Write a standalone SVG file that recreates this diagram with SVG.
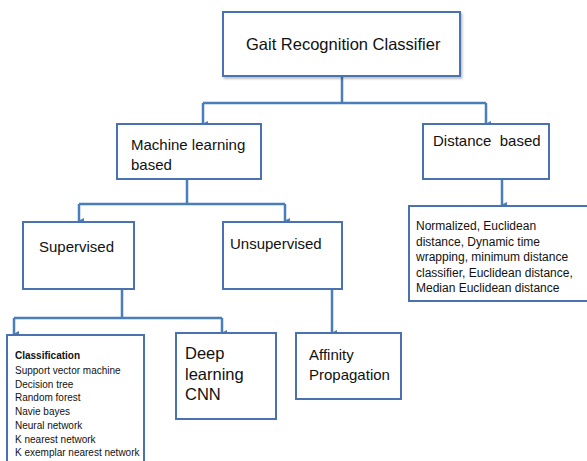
<svg xmlns="http://www.w3.org/2000/svg" width="587" height="461" viewBox="0 0 587 461">
<style>
.box{fill:#fff;stroke:#4a72b0;stroke-width:2}
.ln{fill:none;stroke:#4a7ebb;stroke-width:2.5}
text{font-family:"Liberation Sans",Arial,sans-serif;fill:#111}
.t17{font-size:16.5px}
.t16{font-size:15px}
.t12{font-size:12px}
.t11{font-size:10px}
</style>
<defs>
<marker id="ah" markerWidth="6" markerHeight="6" refX="3" refY="5" orient="auto" markerUnits="userSpaceOnUse" viewBox="0 0 6 6">
<path d="M0,0 L6,0 L3,6 Z" fill="#4a7ebb"/>
</marker>
<filter id="sh" x="-10%" y="-10%" width="120%" height="130%"><feDropShadow dx="1.5" dy="2" stdDeviation="1.2" flood-color="#000" flood-opacity="0.25"/></filter>
</defs>
<rect width="587" height="461" fill="#fff"/>
<g id="connectors">
<path class="ln" d="M342,76 V103"/>
<path class="ln" d="M203,103 H486"/>
<path class="ln" d="M203,103 V124" marker-end="url(#ah)"/>
<path class="ln" d="M486,103 V124" marker-end="url(#ah)"/>
<path class="ln" d="M187,179 V204"/>
<path class="ln" d="M79,204 H285"/>
<path class="ln" d="M79,204 V221" marker-end="url(#ah)"/>
<path class="ln" d="M285,204 V221" marker-end="url(#ah)"/>
<path class="ln" d="M502,179 V205" marker-end="url(#ah)"/>
<path class="ln" d="M122,289 V318"/>
<path class="ln" d="M14,318 H222"/>
<path class="ln" d="M14,318 V334" marker-end="url(#ah)"/>
<path class="ln" d="M222,318 V333" marker-end="url(#ah)"/>
<path class="ln" d="M332,289 V333" marker-end="url(#ah)"/>
</g>
<g id="root">
<rect class="box" x="223" y="12" width="237" height="64" filter="url(#sh)"/>
<text class="t17" x="246" y="50">Gait Recognition Classifier</text>
</g>
<g id="ml">
<rect class="box" x="117" y="124" width="144" height="55"/>
<text class="t16" x="131" y="150">Machine learning</text>
<text class="t16" x="131" y="170">based</text>
</g>
<g id="distance">
<rect class="box" x="423" y="124" width="126" height="55"/>
<text class="t16" x="433" y="146" xml:space="preserve">Distance  based</text>
</g>
<g id="distlist">
<rect class="box" x="409" y="206" width="180" height="95"/>
<text class="t12" x="416" y="230">Normalized, Euclidean</text>
<text class="t12" x="416" y="245.5">distance, Dynamic time</text>
<text class="t12" x="416" y="261">wrapping, minimum distance</text>
<text class="t12" x="416" y="276.5">classifier, Euclidean distance,</text>
<text class="t12" x="416" y="292">Median Euclidean distance</text>
</g>
<g id="supervised">
<rect class="box" x="23" y="222" width="111" height="67"/>
<text class="t16" x="39" y="252">Supervised</text>
</g>
<g id="unsupervised">
<rect class="box" x="223" y="222" width="119" height="67"/>
<text class="t16" x="230" y="249">Unsupervised</text>
</g>
<g id="classification">
<rect class="box" x="7" y="335" width="137" height="130"/>
<text class="t11" x="15" y="359" font-weight="bold">Classification</text>
<text class="t11" x="15" y="374">Support vector machine</text>
<text class="t11" x="15" y="388">Decision tree</text>
<text class="t11" x="15" y="401">Random forest</text>
<text class="t11" x="15" y="415">Navie bayes</text>
<text class="t11" x="15" y="429">Neural network</text>
<text class="t11" x="15" y="443">K nearest network</text>
<text class="t11" x="15" y="456">K exemplar nearest network</text>
</g>
<g id="deep">
<rect class="box" x="176" y="333" width="100" height="86"/>
<text class="t17" x="185" y="359">Deep</text>
<text class="t17" x="185" y="380">learning</text>
<text class="t17" x="185" y="400">CNN</text>
</g>
<g id="affinity">
<rect class="box" x="296" y="333" width="105" height="66"/>
<text class="t16" x="309" y="360">Affinity</text>
<text class="t16" x="309" y="380">Propagation</text>
</g>
</svg>
